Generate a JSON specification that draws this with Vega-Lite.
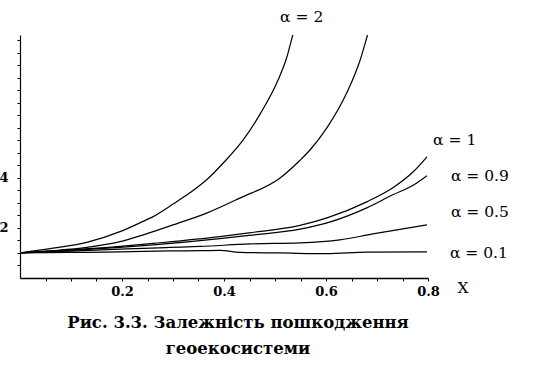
{
  "$schema": "https://vega.github.io/schema/vega-lite/v6.json",
  "autosize": {"type": "none"},
  "width": 408,
  "height": 243,
  "padding": {"left": 20, "top": 35, "right": 132, "bottom": 105},
  "background": "white",
  "config": {"view": {"stroke": null}},
  "title": {
    "text": ["Рис. 3.3. Залежність пошкодження", "геоекосистеми"],
    "orient": "bottom",
    "anchor": "middle",
    "dx": 14,
    "offset": 17,
    "font": "DejaVu Serif",
    "fontSize": 16.5,
    "fontWeight": "bold",
    "lineHeight": 26,
    "color": "black"
  },
  "datasets": {
    "curves": [
      {"s": "A", "x": 0, "y": 1}, {"s": "A", "x": 0.065, "y": 1.19}, {"s": "A", "x": 0.131, "y": 1.42}, {"s": "A", "x": 0.196, "y": 1.85}, {"s": "A", "x": 0.235, "y": 2.2}, {"s": "A", "x": 0.261, "y": 2.45}, {"s": "A", "x": 0.3, "y": 2.95}, {"s": "A", "x": 0.333, "y": 3.4}, {"s": "A", "x": 0.366, "y": 3.92}, {"s": "A", "x": 0.399, "y": 4.6}, {"s": "A", "x": 0.438, "y": 5.52}, {"s": "A", "x": 0.471, "y": 6.55}, {"s": "A", "x": 0.506, "y": 7.9}, {"s": "A", "x": 0.523, "y": 8.8}, {"s": "A", "x": 0.535, "y": 9.7}, {"s": "A", "x": 0.545, "y": 10.3},
      {"s": "B", "x": 0, "y": 1}, {"s": "B", "x": 0.065, "y": 1.09}, {"s": "B", "x": 0.131, "y": 1.22}, {"s": "B", "x": 0.196, "y": 1.45}, {"s": "B", "x": 0.235, "y": 1.68}, {"s": "B", "x": 0.261, "y": 1.85}, {"s": "B", "x": 0.3, "y": 2.12}, {"s": "B", "x": 0.366, "y": 2.59}, {"s": "B", "x": 0.431, "y": 3.19}, {"s": "B", "x": 0.51, "y": 3.99}, {"s": "B", "x": 0.549, "y": 4.7}, {"s": "B", "x": 0.569, "y": 5.12}, {"s": "B", "x": 0.602, "y": 6.0}, {"s": "B", "x": 0.641, "y": 7.4}, {"s": "B", "x": 0.667, "y": 8.7}, {"s": "B", "x": 0.68, "y": 9.6}, {"s": "B", "x": 0.69, "y": 10.3},
      {"s": "1", "x": 0, "y": 1}, {"s": "1", "x": 0.098, "y": 1.12}, {"s": "1", "x": 0.196, "y": 1.26}, {"s": "1", "x": 0.261, "y": 1.38}, {"s": "1", "x": 0.392, "y": 1.65}, {"s": "1", "x": 0.449, "y": 1.8}, {"s": "1", "x": 0.549, "y": 2.1}, {"s": "1", "x": 0.602, "y": 2.4}, {"s": "1", "x": 0.68, "y": 3.04}, {"s": "1", "x": 0.731, "y": 3.6}, {"s": "1", "x": 0.771, "y": 4.24}, {"s": "1", "x": 0.798, "y": 4.84},
      {"s": "0.9", "x": 0, "y": 1}, {"s": "0.9", "x": 0.098, "y": 1.1}, {"s": "0.9", "x": 0.196, "y": 1.22}, {"s": "0.9", "x": 0.261, "y": 1.32}, {"s": "0.9", "x": 0.392, "y": 1.57}, {"s": "0.9", "x": 0.449, "y": 1.7}, {"s": "0.9", "x": 0.549, "y": 1.95}, {"s": "0.9", "x": 0.602, "y": 2.2}, {"s": "0.9", "x": 0.68, "y": 2.8}, {"s": "0.9", "x": 0.731, "y": 3.32}, {"s": "0.9", "x": 0.771, "y": 3.7}, {"s": "0.9", "x": 0.798, "y": 4.08},
      {"s": "0.5", "x": 0, "y": 1}, {"s": "0.5", "x": 0.098, "y": 1.07}, {"s": "0.5", "x": 0.196, "y": 1.15}, {"s": "0.5", "x": 0.294, "y": 1.22}, {"s": "0.5", "x": 0.353, "y": 1.26}, {"s": "0.5", "x": 0.451, "y": 1.36}, {"s": "0.5", "x": 0.549, "y": 1.4}, {"s": "0.5", "x": 0.627, "y": 1.52}, {"s": "0.5", "x": 0.692, "y": 1.76}, {"s": "0.5", "x": 0.798, "y": 2.12},
      {"s": "0.1", "x": 0, "y": 1}, {"s": "0.1", "x": 0.098, "y": 1.02}, {"s": "0.1", "x": 0.196, "y": 1.04}, {"s": "0.1", "x": 0.294, "y": 1.08}, {"s": "0.1", "x": 0.353, "y": 1.09}, {"s": "0.1", "x": 0.392, "y": 1.1}, {"s": "0.1", "x": 0.431, "y": 1.02}, {"s": "0.1", "x": 0.51, "y": 1.0}, {"s": "0.1", "x": 0.602, "y": 0.97}, {"s": "0.1", "x": 0.68, "y": 1.03}, {"s": "0.1", "x": 0.798, "y": 1.04}
    ],
    "labels": [
      {"t": "α = 1", "x": 0.81, "y": 5.52},
      {"t": "α = 0.9", "x": 0.845, "y": 4.08},
      {"t": "α = 0.5", "x": 0.845, "y": 2.64},
      {"t": "α = 0.1", "x": 0.843, "y": 1.0},
      {"t": "α = 2", "x": 0.51, "y": 10.4},
      {"t": "X", "x": 0.858, "y": -0.4}
    ]
  },
  "encoding": {
    "x": {
      "field": "x", "type": "quantitative",
      "scale": {"domain": [0, 0.8], "nice": false, "zero": false},
      "axis": {
        "title": null,
        "values": [0.05, 0.1, 0.15, 0.2, 0.25, 0.3, 0.35, 0.4, 0.45, 0.5, 0.55, 0.6, 0.65, 0.7, 0.75, 0.8],
        "format": ".2~f",
        "labelExpr": "indexof(['0.2', '0.4', '0.6', '0.8'], datum.label) >= 0 ? datum.label : ''",
        "labelOverlap": false, "labelBound": false, "labelFlush": false,
        "domainColor": "black", "domainWidth": 1.5,
        "tickColor": "black", "tickSize": 3, "tickWidth": 1,
        "labelFont": "DejaVu Serif", "labelFontSize": 13, "labelFontWeight": "bold",
        "labelColor": "black", "labelPadding": 4, "grid": false
      }
    },
    "y": {
      "field": "y", "type": "quantitative",
      "scale": {"domain": [0, 9.7], "nice": false, "zero": false},
      "axis": {
        "title": null,
        "values": [0.5, 1, 1.5, 2, 2.5, 3, 3.5, 4, 4.5, 5, 5.5, 6, 6.5, 7, 7.5, 8, 8.5, 9, 9.5],
        "format": ".1~f",
        "labelExpr": "(datum.label == '2' || datum.label == '4') ? datum.label : ''",
        "labelOverlap": false, "labelBound": false, "labelFlush": false,
        "domainColor": "black", "domainWidth": 1.2,
        "tickColor": "black", "tickSize": 3, "tickWidth": 1,
        "labelFont": "DejaVu Serif", "labelFontSize": 13, "labelFontWeight": "bold",
        "labelColor": "black", "labelPadding": 9, "grid": false
      }
    }
  },
  "layer": [
    {
      "data": {"name": "curves"},
      "mark": {"type": "line", "clip": true, "color": "black", "strokeWidth": 1.2, "interpolate": "monotone"},
      "encoding": {
        "detail": {"field": "s", "type": "nominal"}
      }
    },
    {
      "data": {"name": "labels"},
      "mark": {"type": "text", "align": "left", "baseline": "middle", "font": "DejaVu Serif", "fontSize": 15.5, "color": "black", "clip": false},
      "encoding": {
        "text": {"field": "t"}
      }
    }
  ]
}
